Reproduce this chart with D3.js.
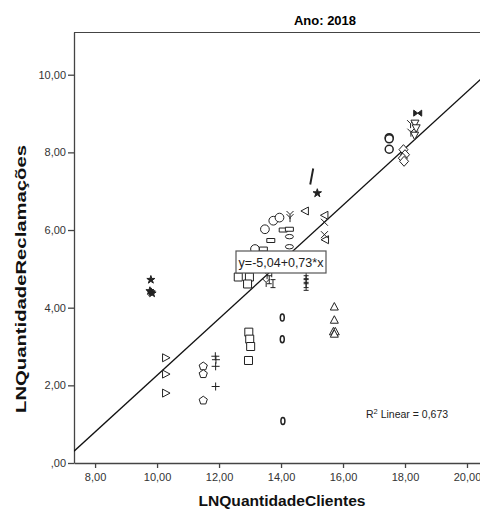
<!DOCTYPE html>
<html>
<head>
<meta charset="utf-8">
<script src="https://cdn.jsdelivr.net/npm/d3@7"></script>
<style>
  body { margin: 0; background: #fff; }
  text { font-family: "Liberation Sans", Arial, sans-serif; }
</style>
</head>
<body>
<div id="chart"></div>
<script>
// dados (Ano: 2018)
var empresa = [
  "A","A","A","A",
  "B","B","B",
  "C","C","C",
  "D","D","D","D",
  "E","E","E","E","E","E","E",
  "F","F","F",
  "G","G","G","G","G",
  "H","H","H","H",
  "I","I","I","I",
  "U","U",
  "J","J","J",
  "K","K",
  "T","T",
  "L",
  "M","M","M",
  "N","N","N",
  "O","O","O",
  "P","P","P","P",
  "Q",
  "R",
  "S","S","S","S",
  "V","V","V",
  "W","W"
];
var lnClientes = [
  9.80, 9.77, 9.81, 9.84,
  10.29, 10.29, 10.29,
  11.49, 11.49, 11.49,
  11.88, 11.90, 11.89, 11.89,
  12.96, 12.99, 13.02, 12.95, 12.62, 12.98, 12.92,
  14.04, 14.04, 14.06,
  15.72, 15.72, 15.69, 15.75, 15.72,
  13.48, 13.75, 13.95, 13.16,
  14.07, 14.27, 13.67, 13.43,
  14.27, 14.27,
  14.77, 15.40, 15.42,
  15.40, 15.40,
  14.29, 14.29,
  18.41,
  18.18, 18.19, 18.30,
  18.32, 18.31, 18.36,
  17.49, 17.49, 17.49,
  17.95, 18.00, 17.93, 17.97,
  14.99,
  15.17,
  14.81, 14.81, 14.81, 14.81,
  13.55, 13.70, 13.52,
  13.62, 13.74
];
var lnReclamacoes = [
  4.72, 4.43, 4.40, 4.37,
  2.71, 2.29, 1.80,
  2.49, 2.29, 1.61,
  2.75, 2.66, 2.49, 1.97,
  3.37, 3.19, 3.00, 2.64, 4.79, 4.79, 4.61,
  3.75, 3.19, 1.08,
  4.03, 3.69, 3.39, 3.39, 3.33,
  6.02, 6.24, 6.32, 5.51,
  6.00, 6.02, 5.73, 5.51,
  5.83, 5.57,
  6.49, 6.38, 5.75,
  6.20, 5.88,
  6.40, 6.32,
  9.01,
  8.74, 8.52, 8.47,
  8.74, 8.43, 8.62,
  8.38, 8.35, 8.08,
  8.07, 7.94, 7.85, 7.77,
  7.38,
  6.95,
  4.85, 4.72, 4.62, 4.55,
  4.85, 4.90, 4.65,
  4.72, 4.62
];
var xTicks = [8, 10, 12, 14, 16, 18, 20];
var yTicks = [0, 2, 4, 6, 8, 10];
var intercepto = -5.04, inclinacao = 0.73, r2Linear = 0.673;

var width = 480, height = 512;
var plot = {left: 74, top: 32, right: 489, bottom: 463};

var svg = d3.select("#chart")
  .append("svg")
    .attr("width", width)
    .attr("height", height);

var x = d3.scaleLinear().domain([7.32, 20.71]).range([plot.left, plot.right]);
var y = d3.scaleLinear().domain([0, 11.1]).range([plot.bottom, plot.top]);

var virgula = function(d) {
  var s = d3.format(".2f")(d).replace(".", ",").replace("\u2212", "-");
  return d === 0 ? s.replace(/^0/, "") : s;
};

svg.append("defs").append("clipPath")
    .attr("id", "area")
  .append("rect")
    .attr("x", plot.left)
    .attr("y", plot.top)
    .attr("width", plot.right - plot.left)
    .attr("height", plot.bottom - plot.top);

// titulo
svg.append("text")
  .attr("x", 325)
  .attr("y", 25)
  .attr("text-anchor", "middle")
  .style("font-size", "13px")
  .style("font-weight", "bold")
  .text("Ano: 2018");

// borda superior
svg.append("line")
  .attr("x1", plot.left).attr("x2", plot.right)
  .attr("y1", plot.top + 0.5).attr("y2", plot.top + 0.5)
  .attr("stroke", "#444");

var xAxis = svg.append("g")
  .attr("transform", "translate(0," + plot.bottom + ")")
  .call(d3.axisBottom(x).tickValues(xTicks).tickFormat(virgula).tickSize(5).tickSizeOuter(0));

var yAxis = svg.append("g")
  .attr("transform", "translate(" + plot.left + ",0)")
  .call(d3.axisLeft(y).tickValues(yTicks).tickFormat(virgula).tickSize(6).tickSizeOuter(0));

[xAxis, yAxis].forEach(function(g) {
  g.selectAll("path, line").attr("stroke", "#444").attr("stroke-width", 1.3);
  g.selectAll("text")
    .style("font-family", "'Liberation Sans', Arial, sans-serif")
    .style("font-size", "11px")
    .attr("fill", "#333");
});
xAxis.selectAll("text").attr("y", 10);
yAxis.selectAll("text").attr("x", -8);

// rotulos dos eixos
svg.append("text")
  .attr("x", 282)
  .attr("y", 506)
  .attr("text-anchor", "middle")
  .attr("textLength", 167)
  .attr("lengthAdjust", "spacingAndGlyphs")
  .style("font-size", "14px")
  .style("font-weight", "bold")
  .attr("fill", "#111")
  .text("LNQuantidadeClientes");

svg.append("text")
  .attr("transform", "translate(26,279) rotate(-90)")
  .attr("text-anchor", "middle")
  .attr("textLength", 268)
  .attr("lengthAdjust", "spacingAndGlyphs")
  .style("font-size", "15px")
  .style("font-weight", "bold")
  .attr("fill", "#111")
  .text("LNQuantidadeReclamações");

var chart = svg.append("g").attr("clip-path", "url(#area)");

// reta de ajuste
var xd = x.domain();
chart.append("line")
  .attr("x1", x(xd[0])).attr("y1", y(intercepto + inclinacao * xd[0]))
  .attr("x2", x(xd[1])).attr("y2", y(intercepto + inclinacao * xd[1]))
  .attr("stroke", "#111")
  .attr("stroke-width", 1.3);

// marcadores por empresa
var formas = {
  A: "sol", B: "triRight", C: "pentagono", D: "mais", E: "quadrado", F: "zero",
  G: "triUp", H: "circulo", I: "retH", U: "ovalH", J: "triLeft", K: "xis",
  T: "ipsilon", L: "gravata", M: "ipsilon", N: "triDown", O: "circuloDuplo",
  P: "losango", Q: "barra", R: "estrela", S: "ibar", V: "ipsilon", W: "ibar"
};
var cheios = {sol: true, gravata: true, estrela: true};

function caminho(forma) {
  switch (forma) {
    case "quadrado": return "M-4,-4h8v8h-8z";
    case "triUp": return "M0,-4L4,3.5L-4,3.5Z";
    case "triDown": return "M0,4L4,-3.5L-4,-3.5Z";
    case "triLeft": return "M-4,0L3.5,-4L3.5,4Z";
    case "triRight": return "M4,0L-3.5,-4L-3.5,4Z";
    case "losango": return "M0,-5L4.5,0L0,5L-4.5,0Z";
    case "mais": return "M-4,0H4M0,-4V4";
    case "xis": return "M-3.5,-3.5L3.5,3.5M-3.5,3.5L3.5,-3.5";
    case "ipsilon": return "M0,0V4.5M0,0L-3.5,-3.5M0,0L3.5,-3.5";
    case "ibar": return "M-2.5,-4H2.5M0,-4V4M-2.5,4H2.5";
    case "zero": return "M0,-3.5A2,3.5 0 1,1 0,3.5A2,3.5 0 1,1 0,-3.5";
    case "ovalH": return "M-4,0A4,2.2 0 1,1 4,0A4,2.2 0 1,1 -4,0";
    case "retH": return "M-4,-2h8v4h-8z";
    case "gravata": return "M-4,-3L0,0L-4,3ZM4,-3L0,0L4,3Z";
    case "barra": return "M1.5,-8L-1.5,8";
    case "circulo": return d3.symbol(d3.symbolCircle, 60)();
    case "circuloDuplo": return d3.symbol(d3.symbolCircle, 50)();
    case "estrela": return d3.symbol(d3.symbolStar, 22)();
    case "sol": return d3.symbol(d3.symbolStar, 20)();
    case "pentagono":
      return d3.line()(d3.range(5).map(function(i) {
        var a = -Math.PI / 2 + i * 2 * Math.PI / 5;
        return [4.3 * Math.cos(a), 4.3 * Math.sin(a)];
      })) + "Z";
  }
}

var pontos = empresa.map(function(e, i) {
  return {empresa: e, x: lnClientes[i], y: lnReclamacoes[i]};
});

chart.append("g").selectAll("path")
  .data(pontos)
  .enter().append("path")
    .attr("transform", function(d) { return "translate(" + x(d.x) + "," + y(d.y) + ")"; })
    .attr("d", function(d) { return caminho(formas[d.empresa]); })
    .attr("fill", function(d) { return cheios[formas[d.empresa]] ? "#222" : "#fff"; })
    .attr("stroke", "#222")
    .attr("stroke-width", function(d) {
      var f = formas[d.empresa];
      return f === "barra" ? 2 : (f === "zero" || f === "circuloDuplo") ? 1.5 : 1;
    });

// caixa da equacao
var caixa = svg.append("g").attr("transform", "translate(236,251)");
caixa.append("rect")
  .attr("width", 90)
  .attr("height", 22)
  .attr("fill", "#fff")
  .attr("stroke", "#555")
  .attr("stroke-width", 1.2);
caixa.append("text")
  .attr("x", 45)
  .attr("y", 16)
  .attr("text-anchor", "middle")
  .style("font-size", "12.5px")
  .attr("fill", "#222")
  .text("y=" + virgula(intercepto) + "+" + virgula(inclinacao) + "*x");

// R2
var r2 = svg.append("text")
  .attr("x", 366)
  .attr("y", 418)
  .style("font-size", "10.5px")
  .attr("fill", "#222");
r2.append("tspan").text("R");
r2.append("tspan").attr("dy", -4).style("font-size", "7.5px").text("2");
r2.append("tspan").attr("dy", 4).text(" Linear = " + d3.format(".3f")(r2Linear).replace(".", ","));
</script>
</body>
</html>
